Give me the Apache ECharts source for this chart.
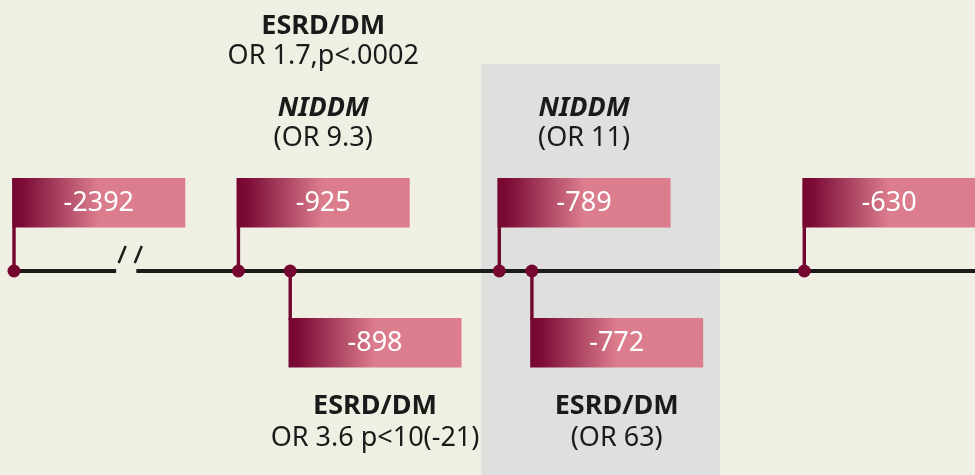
<!DOCTYPE html>
<html>
<head>
<meta charset="utf-8">
<script src="https://cdn.jsdelivr.net/npm/echarts@6/dist/echarts.min.js"></script>
<style>
html, body { margin: 0; padding: 0; background: #f0efe4; }
#main { width: 975px; height: 475px; }
</style>
</head>
<body>
<div id="main"></div>
<script>
// SNP positions on the promoter (bp)
var snpPos = [-2392, -925, -898, -789, -772, -630];
// 1 = flag above the line, -1 = flag below
var flagSide = [1, 1, -1, 1, -1, 1];
// association notes per SNP (title / detail pairs)
var noteTitles = [[], ['ESRD/DM', 'NIDDM'], ['ESRD/DM'], ['NIDDM'], ['ESRD/DM'], []];
var noteDetails = [[], ['OR 1.7,p<.0002', '(OR 9.3)'], ['OR 3.6 p<10(-21)'], ['(OR 11)'], ['(OR 63)'], []];
var italicTitles = ['NIDDM'];
// scale: break between the distal SNP and the cluster
var axisMin = -2392, axisMax = -541;
var axisBreak = { start: -2339, end: -978, gap: 11 };
// shaded pair
var shadedPair = [-789, -772];

var DARK = '#740630';
var PINK = '#dc7d8e';
var BG = '#f0efe4';
var FONT = '"Noto Sans", "Open Sans", sans-serif';

(function () {
	var myChart = echarts.init(document.getElementById('main'));

	var flagData = snpPos.map(function (v, i) { return [v, flagSide[i]]; });

	function flagItem(params, api) {
		var i = params.dataIndex;
		var pt = api.coord([api.value(0), 0]);
		var side = api.value(1);
		var x = pt[0], y = pt[1];
		var w = 173, h = 49.5;
		var left = x - 1.7;
		var top = side > 0 ? y - 93 : y + 47;
		var cx = left + w / 2;
		var children = [];

		children.push({
			type: 'rect',
			shape: side > 0 ? { x: x - 1.7, y: top, width: 3.4, height: y - top } : { x: x - 1.7, y: y, width: 3.4, height: top - y + 2 },
			style: { fill: DARK }
		});
		children.push({
			type: 'rect',
			shape: { x: left, y: top, width: w, height: h },
			style: {
				fill: new echarts.graphic.LinearGradient(0, 0, 1, 0, [
					{ offset: 0, color: DARK },
					{ offset: 0.06, color: '#7c0c37' },
					{ offset: 0.5, color: PINK },
					{ offset: 1, color: PINK }
				])
			}
		});
		children.push({
			type: 'text',
			style: {
				text: String(snpPos[i]), x: cx, y: top + h / 2 + 1,
				align: 'center', verticalAlign: 'middle',
				fill: '#ffffff', fontSize: 27, fontFamily: FONT
			}
		});
		children.push({
			type: 'circle',
			shape: { cx: x, cy: y, r: 6.5 },
			style: { fill: DARK }
		});

		var titles = noteTitles[i], details = noteDetails[i];
		var n = titles.length;
		for (var k = 0; k < n; k++) {
			var ty, dy;
			if (side > 0) {
				var j = n - 1 - k;
				dy = top - 40 - 82 * j;
				ty = dy - 30;
			} else {
				ty = top + h + 39 + 82 * k;
				dy = ty + 32;
			}
			children.push({
				type: 'text',
				style: {
					text: titles[k], x: cx, y: ty,
					align: 'center', verticalAlign: 'middle',
					fill: '#1a1a1a', fontSize: 27, fontWeight: 'bold',
					fontStyle: italicTitles.indexOf(titles[k]) >= 0 ? 'italic' : 'normal',
					fontFamily: FONT
				}
			});
			children.push({
				type: 'text',
				style: {
					text: details[k], x: cx, y: dy,
					align: 'center', verticalAlign: 'middle',
					fill: '#1a1a1a', fontSize: 27, fontFamily: FONT
				}
			});
		}
		return { type: 'group', children: children };
	}

	var option = {
		backgroundColor: BG,
		animation: false,
		grid: { left: 14, right: 0, top: 171, bottom: 104 },
		xAxis: {
			type: 'value',
			min: axisMin,
			max: axisMax,
			z: 3,
			breaks: [axisBreak],
			breakArea: { show: false },
			axisLine: { show: true, lineStyle: { color: '#1b1b1b', width: 4 } },
			axisTick: { show: false },
			axisLabel: { show: false },
			splitLine: { show: false }
		},
		yAxis: {
			type: 'value', min: -1, max: 1, show: false,
			splitLine: { show: false }
		},
		series: [
			{
				// shaded box behind the -789 / -772 pair
				type: 'custom',
				z: 1,
				clip: false,
				silent: true,
				data: [shadedPair],
				renderItem: function (params, api) {
					var x1 = api.coord([api.value(0), 0])[0] - 18;
					var x2 = api.coord([api.value(1), 0])[0] + 188;
					return {
						type: 'rect',
						shape: { x: x1, y: 64, width: x2 - x1, height: api.getHeight() - 64 },
						style: { fill: '#dfe0de' }
					};
				}
			},
			{
				// break marks on the line
				type: 'custom',
				z: 6,
				clip: false,
				silent: true,
				data: [[axisBreak.start, axisBreak.end]],
				renderItem: function (params, api) {
					var s = api.coord([api.value(0), 0]);
					var e = api.coord([api.value(1), 0]);
					var y = s[1];
					var ls = { stroke: '#1b1b1b', lineWidth: 2.5 };
					return {
						type: 'group',
						children: [
							{ type: 'rect', shape: { x: s[0] + 0.5, y: y - 4, width: e[0] - s[0] - 1, height: 8 }, style: { fill: BG } },
							{ type: 'line', shape: { x1: s[0] + 3, y1: y - 8, x2: s[0] + 10, y2: y - 25 }, style: ls },
							{ type: 'line', shape: { x1: e[0] - 2, y1: y - 8, x2: e[0] + 5, y2: y - 25 }, style: ls }
						]
					};
				}
			},
			{
				type: 'custom',
				z: 5,
				clip: false,
				silent: true,
				data: flagData,
				renderItem: flagItem
			}
		]
	};

	myChart.setOption(option);
	window.onresize = myChart.resize;
})();
</script>
</body>
</html>
